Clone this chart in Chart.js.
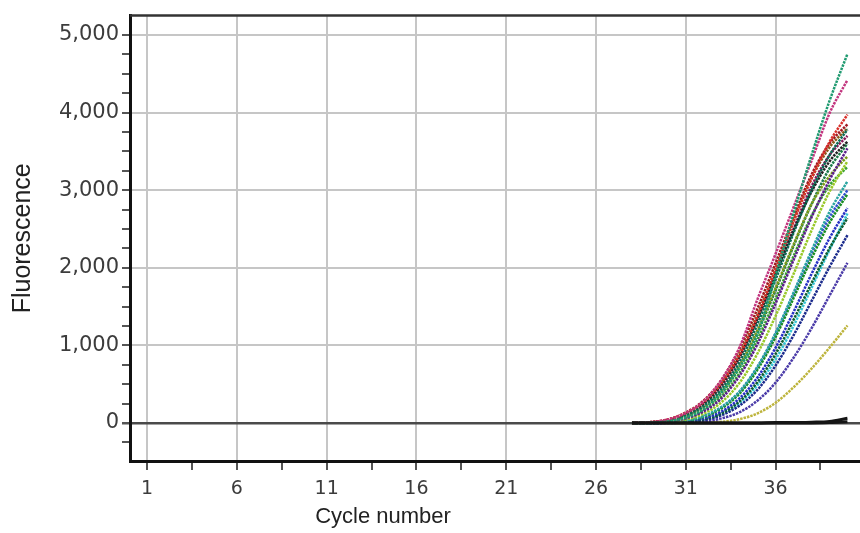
<!DOCTYPE html>
<html>
<head>
<meta charset="utf-8">
<script src="https://cdn.jsdelivr.net/npm/chart.js@4.4.1/dist/chart.umd.min.js"></script>
<style>
  html, body { margin: 0; padding: 0; background: #fff; }
</style>
</head>
<body>
<canvas id="amplification" width="860" height="533"></canvas>
<script>
// cycles where the curves are plotted
const cycles = [28, 29, 30, 31, 32, 33, 34, 35, 36, 37, 38, 39, 40];

const xTickLabels = [1, 6, 11, 16, 21, 26, 31, 36];
const yTickLabels = [0, 1000, 2000, 3000, 4000, 5000];

// fluorescence per well
const negA = [0, 0, 0, 0, 0, 0, 0, 0, 0, 0, 0, 5, 15];
const negB = [0, 0, 0, 0, 0, 0, 0, 0, 5, 5, 10, 20, 60];
const greenTop = [0, 5, 20, 70, 180, 400, 720, 1150, 1900, 2700, 3450, 4150, 4756];
const pink = [0, 10, 45, 130, 280, 560, 980, 1600, 2180, 2780, 3380, 3990, 4420];
const red = [0, 10, 45, 130, 270, 520, 880, 1380, 1980, 2600, 3150, 3620, 3974];
const darkTeal = [0, 5, 30, 100, 220, 440, 790, 1280, 1850, 2450, 3000, 3450, 3782];
const black = [0, 8, 35, 110, 250, 500, 860, 1350, 1920, 2480, 2980, 3370, 3628];
const purple = [0, 3, 18, 60, 150, 320, 610, 1020, 1540, 2100, 2650, 3130, 3538];
const olive = [0, 5, 25, 85, 200, 410, 740, 1200, 1740, 2300, 2820, 3180, 3436];
const lime = [0, 2, 12, 45, 120, 270, 520, 900, 1380, 1920, 2480, 2980, 3372];
const brown = [0, 10, 40, 125, 270, 530, 900, 1400, 1980, 2600, 3150, 3550, 3800];
const teal = [0, 0, 8, 32, 90, 210, 410, 730, 1160, 1680, 2220, 2720, 3115];
const green = [0, 0, 6, 28, 80, 190, 380, 690, 1110, 1610, 2120, 2580, 2949];
const blue = [0, 0, 4, 20, 60, 150, 320, 590, 970, 1430, 1920, 2380, 2770];
const darkGreen = [0, 0, 4, 16, 50, 125, 280, 530, 890, 1330, 1800, 2250, 2641];
const navy = [0, 0, 2, 12, 38, 100, 225, 430, 740, 1130, 1570, 2010, 2420];
const cyan = [0, 0, 4, 16, 48, 120, 260, 490, 820, 1250, 1740, 2230, 2700];
const violet = [0, 0, 0, 6, 20, 60, 140, 290, 520, 840, 1220, 1640, 2064];
const yellow = [0, 0, 0, 0, 4, 15, 50, 125, 260, 460, 700, 970, 1256];
const plum = [0, 8, 35, 110, 240, 480, 850, 1350, 1920, 2500, 3050, 3450, 3700];
const grass = [0, 3, 18, 65, 160, 345, 650, 1080, 1600, 2150, 2670, 3060, 3300];
const darkRed = [0, 10, 45, 135, 290, 560, 960, 1480, 2060, 2650, 3200, 3600, 3850];
const royal = [0, 0, 8, 32, 85, 200, 400, 720, 1150, 1660, 2190, 2650, 3000];
const pine = [0, 5, 22, 80, 185, 390, 720, 1170, 1710, 2280, 2820, 3280, 3600];

const wells = [
  [negA, '#151515', true], [negB, '#151515', true],
  [greenTop, '#1f9a70'], [pink, '#c2347e'], [red, '#d8302a'], [darkTeal, '#0c6b55'],
  [black, '#222222'], [purple, '#5b1f8c'], [olive, '#7a9a18'], [lime, '#98c828'],
  [brown, '#8c5a1c'], [teal, '#28a4a0'], [green, '#178c22'], [blue, '#2630c4'],
  [darkGreen, '#0d5c2e'], [navy, '#1a2a8c'], [cyan, '#36c4d4'], [violet, '#4a3aa8'],
  [yellow, '#bdb43c'], [plum, '#8a1a5a'], [grass, '#3aa030'], [darkRed, '#a01820'],
  [royal, '#3450d0'], [pine, '#1d7a4a']
];

const datasets = wells.map(([vals, color, flat]) => ({
  data: cycles.map((c, i) => ({ x: c, y: vals[i] })),
  borderColor: color,
  borderWidth: flat ? 3 : 2.5,
  borderDash: flat ? [] : [2.5, 1],
  pointRadius: 0,
  cubicInterpolationMode: 'monotone',
  fill: false
}));

const frame = {
  id: 'frame',
  afterDraw(chart) {
    const { ctx, chartArea } = chart;
    ctx.save();
    ctx.strokeStyle = '#333';
    ctx.lineWidth = 2.5;
    ctx.beginPath();
    ctx.moveTo(chartArea.left, chartArea.top);
    ctx.lineTo(chartArea.right, chartArea.top);
    ctx.stroke();
    ctx.fillStyle = '#222';
    ctx.font = '22px "Liberation Sans", Arial, sans-serif';
    ctx.textAlign = 'center';
    ctx.textBaseline = 'middle';
    ctx.fillText('Cycle number', 383, 517);
    ctx.restore();
  }
};

const isMajorX = v => xTickLabels.includes(v);
const isMajorY = v => yTickLabels.includes(v);

new Chart(document.getElementById('amplification'), {
  type: 'line',
  data: { datasets },
  plugins: [frame],
  options: {
    responsive: false,
    animation: false,
    layout: { padding: { top: 13, right: 0, left: 0, bottom: 0 } },
    plugins: { legend: { display: false }, tooltip: { enabled: false } },
    scales: {
      x: {
        type: 'linear',
        min: 0.05,
        max: 40.7,
        afterBuildTicks: scale => {
          const t = [];
          xTickLabels.forEach(v => { t.push(v); t.push(v + 2.5); });
          scale.ticks = t.map(v => ({ value: v }));
        },
        afterFit: scale => { scale.height = 72; },
        ticks: {
          autoSkip: false,
          maxRotation: 0,
          padding: 8,
          color: '#3c3c3c',
          font: { family: '"DejaVu Sans", Verdana, sans-serif', size: 19 },
          callback: v => isMajorX(v) ? String(v) : ''
        },
        grid: {
          color: c => isMajorX(c.tick && c.tick.value) ? '#c6c6c6' : 'transparent',
          tickColor: '#555',
          lineWidth: 2,
          tickLength: 9
        },
        border: { color: '#111', width: 3 }
      },
      y: {
        min: -490,
        max: 5250,
        afterBuildTicks: scale => {
          const t = [];
          for (let v = -250; v <= 5000; v += 250) t.push(v);
          scale.ticks = t.map(v => ({ value: v }));
        },
        afterFit: scale => { scale.width = 130; },
        ticks: {
          autoSkip: false,
          padding: 3,
          color: '#3c3c3c',
          font: { family: '"DejaVu Sans", Verdana, sans-serif', size: 21 },
          callback: v => isMajorY(v) ? v.toLocaleString('en-US') : ''
        },
        grid: {
          color: c => {
            const v = c.tick && c.tick.value;
            if (v === 0) return '#4a4a4a';
            return isMajorY(v) ? '#c6c6c6' : 'transparent';
          },
          lineWidth: c => (c.tick && c.tick.value === 0) ? 2.5 : 2,
          tickColor: '#555',
          tickLength: 8
        },
        border: { color: '#111', width: 3 },
        title: {
          display: true,
          text: 'Fluorescence',
          color: '#222',
          padding: { top: 8, bottom: 0 },
          font: { family: '"Liberation Sans", Arial, sans-serif', size: 25 }
        }
      }
    }
  }
});
</script>
</body>
</html>
